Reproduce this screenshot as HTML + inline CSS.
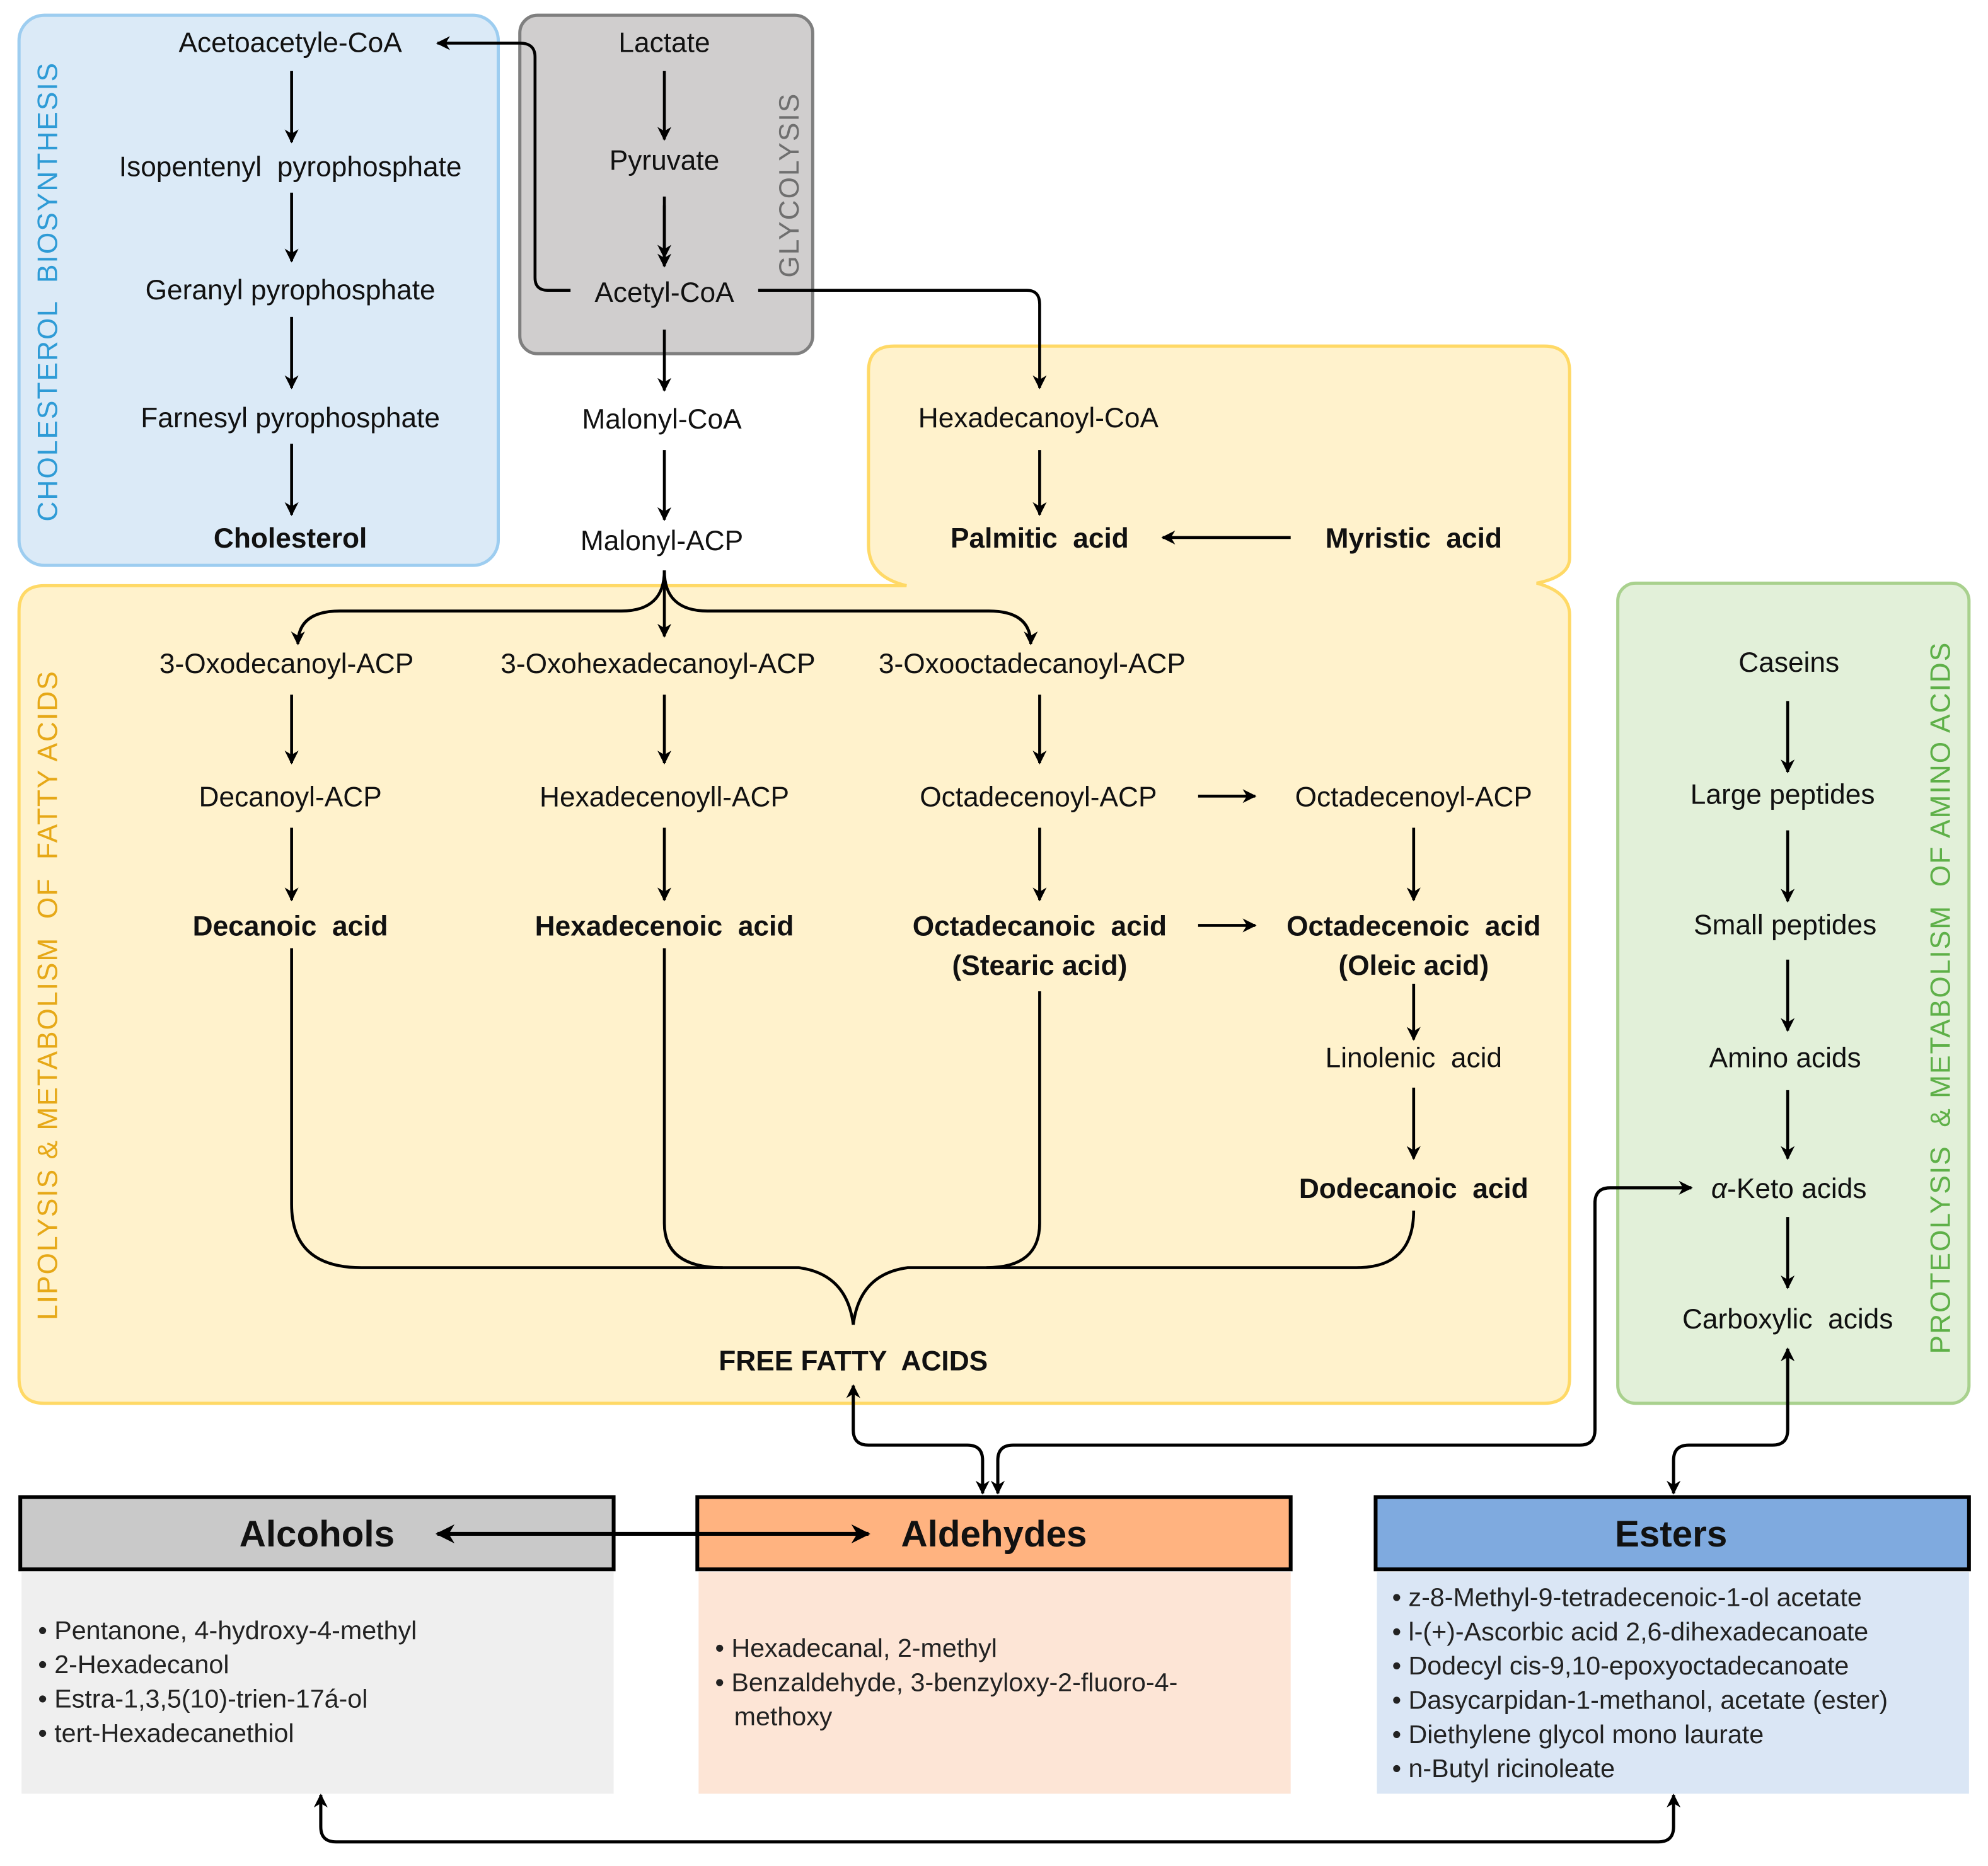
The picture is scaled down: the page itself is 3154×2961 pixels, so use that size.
<!DOCTYPE html>
<html><head><meta charset="utf-8"><style>html,body{margin:0;padding:0;background:#fff}svg{display:block}text{white-space:pre}</style></head>
<body>
<svg width="3154" height="2961" viewBox="0 0 1568 1472" xmlns="http://www.w3.org/2000/svg" font-family="Liberation Sans, Arial, sans-serif">
<defs>
<marker id="b" viewBox="0 0 10 10" refX="9" refY="5" markerWidth="11" markerHeight="11" orient="auto-start-reverse" markerUnits="userSpaceOnUse"><path d="M0,0 L10,5 L0,10 L3,5 z" fill="#000"/></marker>
<marker id="c" viewBox="0 0 10 10" refX="9" refY="5" markerWidth="15" markerHeight="15" orient="auto-start-reverse" markerUnits="userSpaceOnUse"><path d="M0,0 L10,5 L0,10 L3,5 z" fill="#000"/></marker>
</defs>
<rect width="1568" height="1472" fill="#fff"/>
<rect x="15" y="12" width="378" height="434" rx="20" fill="#dbeaf7" stroke="#9dcdf0" stroke-width="2.5"/>
<rect x="410" y="12" width="231" height="267" rx="14" fill="#d0cece" stroke="#7f7f7f" stroke-width="2.5"/>
<path d="M705,273 H1218 Q1238,273 1238,293 V440 Q1238,455 1212,460 Q1238,467 1238,485 V1087 Q1238,1107 1218,1107 H35 Q15,1107 15,1087 V482 Q15,462 35,462 H715 Q685,455 685,430 V293 Q685,273 705,273 Z" fill="#fff2cc" stroke="#ffd966" stroke-width="2.5"/>
<rect x="1276" y="460" width="277" height="647" rx="14" fill="#e2f0d9" stroke="#a9d18e" stroke-width="2.5"/>
<rect x="17" y="1240" width="467" height="175" fill="#efefef"/>
<rect x="551" y="1240" width="467" height="175" fill="#fde5d6"/>
<rect x="1086" y="1240" width="467" height="175" fill="#dae6f5"/>
<rect x="16" y="1181" width="468" height="57" fill="#c9c9c9" stroke="#000" stroke-width="3"/>
<rect x="550" y="1181" width="468" height="57" fill="#ffb380" stroke="#000" stroke-width="3"/>
<rect x="1085" y="1181" width="468" height="57" fill="#7faadf" stroke="#000" stroke-width="3"/>
<text transform="translate(45,230) rotate(-90)" text-anchor="middle" font-size="22" fill="#2e9bd6" letter-spacing="1">CHOLESTEROL  BIOSYNTHESIS</text>
<text transform="translate(630,146) rotate(-90)" text-anchor="middle" font-size="22" fill="#6f6f6f" letter-spacing="1">GLYCOLYSIS</text>
<text transform="translate(45,785) rotate(-90)" text-anchor="middle" font-size="22" fill="#e6a817" letter-spacing="1">LIPOLYSIS &amp; METABOLISM  OF  FATTY ACIDS</text>
<text transform="translate(1538,787) rotate(-90)" text-anchor="middle" font-size="22" fill="#5eb048" letter-spacing="1">PROTEOLYSIS  &amp; METABOLISM  OF AMINO ACIDS</text>
<g font-size="22" fill="#111" text-anchor="middle">
<text x="229" y="41">Acetoacetyle-CoA</text>
<text x="229" y="139">Isopentenyl  pyrophosphate</text>
<text x="229" y="236">Geranyl pyrophosphate</text>
<text x="229" y="337">Farnesyl pyrophosphate</text>
<text x="229" y="432" font-weight="bold">Cholesterol</text>
<text x="524" y="41">Lactate</text>
<text x="524" y="134">Pyruvate</text>
<text x="524" y="238">Acetyl-CoA</text>
<text x="522" y="338">Malonyl-CoA</text>
<text x="522" y="434">Malonyl-ACP</text>
<text x="819" y="337">Hexadecanoyl-CoA</text>
<text x="820" y="432" font-weight="bold">Palmitic  acid</text>
<text x="1115" y="432" font-weight="bold">Myristic  acid</text>
<text x="226" y="531">3-Oxodecanoyl-ACP</text>
<text x="519" y="531">3-Oxohexadecanoyl-ACP</text>
<text x="814" y="531">3-Oxooctadecanoyl-ACP</text>
<text x="229" y="636">Decanoyl-ACP</text>
<text x="524" y="636">Hexadecenoyll-ACP</text>
<text x="819" y="636">Octadecenoyl-ACP</text>
<text x="1115" y="636">Octadecenoyl-ACP</text>
<text x="229" y="738" font-weight="bold">Decanoic  acid</text>
<text x="524" y="738" font-weight="bold">Hexadecenoic  acid</text>
<text x="820" y="738" font-weight="bold">Octadecanoic  acid</text>
<text x="820" y="769" font-weight="bold">(Stearic acid)</text>
<text x="1115" y="738" font-weight="bold">Octadecenoic  acid</text>
<text x="1115" y="769" font-weight="bold">(Oleic acid)</text>
<text x="1115" y="842">Linolenic  acid</text>
<text x="1115" y="945" font-weight="bold">Dodecanoic  acid</text>
<text x="673" y="1081" font-weight="bold">FREE FATTY  ACIDS</text>
<text x="1411" y="530">Caseins</text>
<text x="1406" y="634">Large peptides</text>
<text x="1408" y="737">Small peptides</text>
<text x="1408" y="842">Amino acids</text>
<text x="1411" y="945"><tspan font-style="italic">α</tspan>-Keto acids</text>
<text x="1410" y="1048">Carboxylic  acids</text>
</g>
<g font-size="29" font-weight="bold" fill="#111" text-anchor="middle">
<text x="250" y="1220">Alcohols</text>
<text x="784" y="1220">Aldehydes</text>
<text x="1318" y="1220">Esters</text>
</g>
<g font-size="20.5" fill="#222">
<text x="30" y="1293">• Pentanone, 4-hydroxy-4-methyl</text>
<text x="30" y="1320">• 2-Hexadecanol</text>
<text x="30" y="1347">• Estra-1,3,5(10)-trien-17á-ol</text>
<text x="30" y="1374">• tert-Hexadecanethiol</text>
<text x="564" y="1307">• Hexadecanal, 2-methyl</text>
<text x="564" y="1334">• Benzaldehyde, 3-benzyloxy-2-fluoro-4-</text>
<text x="579" y="1361">methoxy</text>
<text x="1098" y="1267">• z-8-Methyl-9-tetradecenoic-1-ol acetate</text>
<text x="1098" y="1294">• l-(+)-Ascorbic acid 2,6-dihexadecanoate</text>
<text x="1098" y="1321">• Dodecyl cis-9,10-epoxyoctadecanoate</text>
<text x="1098" y="1348">• Dasycarpidan-1-methanol, acetate (ester)</text>
<text x="1098" y="1375">• Diethylene glycol mono laurate</text>
<text x="1098" y="1402">• n-Butyl ricinoleate</text>
</g>
<g stroke="#000" stroke-width="2.3" fill="none" marker-end="url(#b)">
<line x1="230" y1="56" x2="230" y2="112"/>
<line x1="230" y1="152" x2="230" y2="206"/>
<line x1="230" y1="250" x2="230" y2="306"/>
<line x1="230" y1="350" x2="230" y2="406"/>
<line x1="524" y1="56" x2="524" y2="110"/>
<line x1="524" y1="155" x2="524" y2="203"/>
<line x1="524" y1="162" x2="524" y2="210"/>
<line x1="524" y1="260" x2="524" y2="308"/>
<line x1="524" y1="355" x2="524" y2="410"/>
<path d="M450,229 H432 Q422,229 422,219 V45 Q422,34 410,34 H345"/>
<path d="M598,229 H810 Q820,229 820,240 V306"/>
<line x1="820" y1="355" x2="820" y2="406"/>
<line x1="1018" y1="424" x2="917" y2="424"/>
<line x1="524" y1="450" x2="524" y2="502"/>
<path d="M524,450 Q524,482 490,482 H268 Q235,482 235,508"/>
<path d="M524,450 Q524,482 558,482 H780 Q813,482 813,508"/>
<line x1="230" y1="548" x2="230" y2="602"/>
<line x1="524" y1="548" x2="524" y2="602"/>
<line x1="820" y1="548" x2="820" y2="602"/>
<line x1="230" y1="653" x2="230" y2="710"/>
<line x1="524" y1="653" x2="524" y2="710"/>
<line x1="820" y1="653" x2="820" y2="710"/>
<line x1="1115" y1="653" x2="1115" y2="710"/>
<line x1="945" y1="628" x2="990" y2="628"/>
<line x1="945" y1="730" x2="990" y2="730"/>
<line x1="1115" y1="776" x2="1115" y2="820"/>
<line x1="1115" y1="858" x2="1115" y2="914"/>
<line x1="1410" y1="553" x2="1410" y2="609"/>
<line x1="1410" y1="655" x2="1410" y2="711"/>
<line x1="1410" y1="757" x2="1410" y2="813"/>
<line x1="1410" y1="860" x2="1410" y2="914"/>
<line x1="1410" y1="960" x2="1410" y2="1016"/>
</g>
<g stroke="#000" stroke-width="2.3" fill="none">
<path d="M230,748 V950 Q230,1000 285,1000 H630 Q668,1005 673,1045"/>
<path d="M1115,955 Q1115,1000 1070,1000 H716 Q678,1005 673,1045"/>
<path d="M524,748 V965 Q524,1000 570,1000"/>
<path d="M820,782 V965 Q820,1000 778,1000"/>
</g>
<g stroke="#000" stroke-width="2.5" fill="none">
<path d="M673,1093 V1128 Q673,1140 685,1140 H763 Q775,1140 775,1152 V1178" marker-start="url(#b)" marker-end="url(#b)"/>
<path d="M1334,937 H1270 Q1258,937 1258,949 V1128 Q1258,1140 1246,1140 H799 Q787,1140 787,1152 V1178" marker-start="url(#b)" marker-end="url(#b)"/>
<path d="M1410,1064 V1128 Q1410,1140 1398,1140 H1332 Q1320,1140 1320,1152 V1178" marker-start="url(#b)" marker-end="url(#b)"/>
<path d="M253,1416 V1441 Q253,1453 265,1453 H1308 Q1320,1453 1320,1441 V1416" marker-start="url(#b)" marker-end="url(#b)"/>
<line x1="345" y1="1210" x2="685" y2="1210" stroke-width="3" marker-start="url(#c)" marker-end="url(#c)"/>
</g>
</svg>
</body></html>
